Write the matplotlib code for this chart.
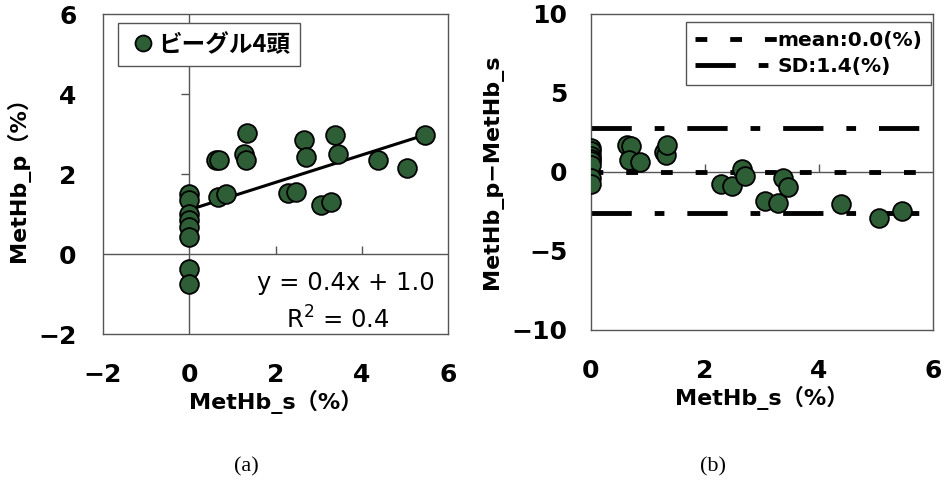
import matplotlib
matplotlib.use('Agg')
import matplotlib.pyplot as plt
import numpy as np

plt.rcParams['font.family'] = ['DejaVu Sans', 'Noto Sans CJK JP']
plt.rcParams['lines.scale_dashes'] = False

# ── データ (MetHb_s, MetHb_p, %) ─────────────────────────────────────
methb_s = [0, 0, 0, 0, 0, 0, 0, 0,
           0.63, 0.70, 0.66, 0.86, 1.28, 1.32, 1.34,
           2.29, 2.48, 2.65, 2.70, 3.06, 3.29, 3.37, 3.45,
           4.38, 5.05, 5.46]
methb_p = [1.52, 1.35, 1.02, 0.85, 0.68, 0.43, -0.36, -0.73,
           2.36, 2.37, 1.44, 1.52, 2.52, 2.37, 3.04,
           1.54, 1.57, 2.86, 2.44, 1.23, 1.32, 2.98, 2.52,
           2.36, 2.15, 2.98]

mean_diff = 0.0
sd_upper = 2.8
sd_lower = -2.6

xticks_a = [-2, 0, 2, 4, 6]
yticks_a = [-2, 0, 2, 4, 6]
xticks_b = [0, 2, 4, 6]
yticks_b = [-10, -5, 0, 5, 10]

green = '#2e5e35'
frame = '#555555'

s = np.array(methb_s)
p = np.array(methb_p)
diff = p - s

fig = plt.figure(figsize=(9.44, 4.92), dpi=100)
ax1 = fig.add_axes([0.1091, 0.3205, 0.3655, 0.6504])
ax2 = fig.add_axes([0.626, 0.3293, 0.3623, 0.6423])

def style_axes(ax, xt, yt, xpad, ypad):
    for sp in ax.spines.values():
        sp.set_color(frame)
        sp.set_linewidth(1.0)
    ax.set_xticks(xt)
    ax.set_yticks(yt)
    ax.set_xticklabels([str(v).replace('-', '−') for v in xt])
    ax.set_yticklabels([str(v).replace('-', '−') for v in yt])
    ax.tick_params(length=0, labelsize=18)
    ax.tick_params(axis='x', pad=xpad)
    ax.tick_params(axis='y', pad=ypad)
    for lab in ax.get_xticklabels() + ax.get_yticklabels():
        lab.set_fontweight('bold')

# ── (a) 散布図 ──────────────────────────────────────────────────────
ax1.set_xlim(-2, 6)
ax1.set_ylim(-2, 6)
style_axes(ax1, xticks_a, yticks_a, 21, 19)
ax1.axhline(0, color=frame, lw=1.0, zorder=1)
ax1.axvline(0, color=frame, lw=1.0, zorder=1)
ax1.plot([2, 4], [0, 0], ls='none', marker=2, ms=6, mew=1.0, color=frame)
ax1.plot([0, 0], [2, 4], ls='none', marker=0, ms=6, mew=1.0, color=frame)

k, b = np.polyfit(s, p, 1)
xs = np.array([0, s.max()])
ax1.plot(xs, k * xs + b, color='black', lw=2.2, zorder=2)
ax1.plot(s, p, ls='none', marker='o', ms=13.5, mfc=green, mec='black',
         mew=1.3, label='ビーグル4頭', zorder=3)

leg1 = ax1.legend(loc='upper left', bbox_to_anchor=(0.044, 0.972),
                  borderaxespad=0, handletextpad=0.0, handlelength=1.3,
                  markerscale=0.85, fancybox=False, framealpha=1,
                  borderpad=0.4,
                  prop={'size': 17, 'weight': 'bold',
                        'family': ['Noto Sans CJK JP']})
leg1.get_frame().set_edgecolor(frame)
leg1.get_frame().set_linewidth(1.0)

ax1.text(0.962, 0.16, 'y = 0.4x + 1.0', transform=ax1.transAxes,
         ha='right', va='center', fontsize=17.5)
ax1.text(0.68, 0.045, 'R$^2$ = 0.4', transform=ax1.transAxes,
         ha='center', va='center', fontsize=17.5)

ax1.set_xlabel('MetHb_s（%）', fontsize=16, fontweight='bold', labelpad=2)
ax1.set_ylabel('MetHb_p（%）', fontsize=16, fontweight='bold', labelpad=6)

# ── (b) Bland-Altman ───────────────────────────────────────────────
ax2.set_xlim(0, 6)
ax2.set_ylim(-10, 10)
style_axes(ax2, xticks_b, yticks_b, 21, 17)
ax2.axhline(0, color=frame, lw=1.0, zorder=1)
ax2.plot([2, 4], [0, 0], ls='none', marker=2, ms=6, mew=1.0, color=frame)
ax2.plot([0, 0], [-5, 5], ls='none', marker=0, ms=6, mew=1.0, color=frame)

mean_ls = (0, (8.5, 16.5))
sd_ls = (0, (29, 16.5, 7, 16.5))
ax2.plot([0, 6], [mean_diff, mean_diff], color='black', lw=3.5,
         ls=mean_ls, label='mean:0.0(%)', zorder=2)
ax2.plot([0, 5.78], [sd_upper, sd_upper], color='black', lw=3.5,
         ls=sd_ls, label='SD:1.4(%)', zorder=2)
ax2.plot([0, 5.78], [sd_lower, sd_lower], color='black', lw=3.5,
         ls=sd_ls, zorder=2)
ax2.plot(s, diff, ls='none', marker='o', ms=13.5, mfc=green, mec='black',
         mew=1.3, zorder=3)

leg2 = ax2.legend(loc='upper right', bbox_to_anchor=(0.995, 0.975),
                  borderaxespad=0, handlelength=4.1, handletextpad=0.0,
                  fancybox=False, framealpha=1, borderpad=0.45,
                  labelspacing=0.35, prop={'size': 14.5, 'weight': 'bold'})
leg2.get_frame().set_edgecolor(frame)
leg2.get_frame().set_linewidth(1.0)

ax2.set_xlabel('MetHb_s（%）', fontsize=16, fontweight='bold', labelpad=2)
ax2.set_ylabel('MetHb_p−MetHb_s', fontsize=16, fontweight='bold', labelpad=6)

# ── キャプション ─────────────────────────────────────────────────────
fig.text(246 / 944, 1 - 467 / 492, '(a)', ha='center', va='center',
         fontsize=16, family='Liberation Serif')
fig.text(713 / 944, 1 - 467 / 492, '(b)', ha='center', va='center',
         fontsize=16, family='Liberation Serif')

fig.savefig('out.png', dpi=100)
